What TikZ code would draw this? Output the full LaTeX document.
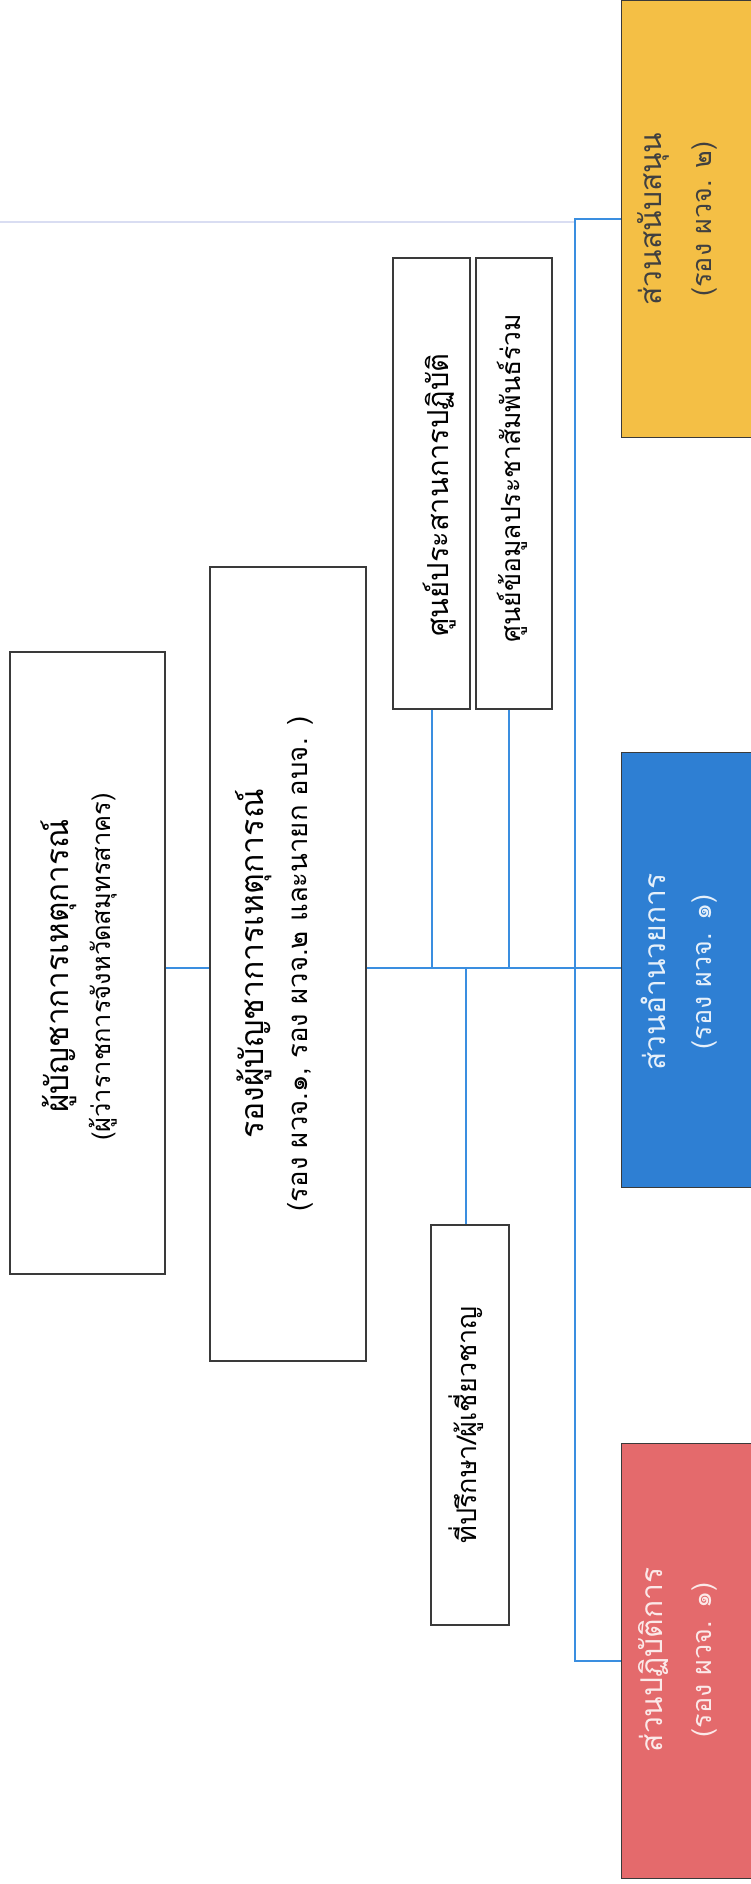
\documentclass[tikz,border=0pt]{standalone}
\usepackage{fontspec}
\newfontfamily\thai[Script=Thai]{Loma}
\definecolor{lineblue}{HTML}{3A8EE0}
\definecolor{faint}{HTML}{D9DDF2}
\definecolor{boxedge}{HTML}{3A3A3A}
\definecolor{supfill}{HTML}{F4BF45}
\definecolor{admfill}{HTML}{2E7FD3}
\definecolor{opsfill}{HTML}{E46A6C}
\begin{document}
\begin{tikzpicture}[x=1pt,y=-1pt,
  box/.style={draw=boxedge,line width=1.1pt,fill=white,inner sep=0pt},
  cbox/.style={draw=boxedge,line width=0.8pt,inner sep=0pt,minimum width=140pt},
  txt/.style={rotate=90,inner sep=0pt,font=\thai},
  conn/.style={draw=lineblue,line width=1.3pt}]
\useasboundingbox (0,0) rectangle (751,1884);
% faint top rule
\coordinate (fl) at (0,222);
\coordinate (fr) at (575,222);
\draw[faint,line width=1.5pt] (fl) -- (fr);
% commander
\node[box,minimum width=155pt,minimum height=622pt] (b1) at (87.5,963) {};
\node[txt,font=\thai\fontsize{31.5}{36}\selectfont] (b1a) at (59,966) {ผู้บัญชาการเหตุการณ์};
\node[txt,font=\thai\fontsize{25.5}{30}\selectfont] (b1b) at (103,967) {(ผู้ว่าราชการจังหวัดสมุทรสาคร)};
% deputy
\node[box,minimum width=156pt,minimum height=794pt] (b2) at (288,964) {};
\node[txt,font=\thai\fontsize{32}{36}\selectfont] (b2a) at (254,964) {รองผู้บัญชาการเหตุการณ์};
\node[txt,font=\thai\fontsize{27.5}{30}\selectfont] (b2b) at (300,964) {(รอง ผวจ.๑, รอง ผวจ.๒ และนายก อบจ. )};
% advisers
\node[box,minimum width=78pt,minimum height=400pt] (adv) at (470,1425) {};
\node[txt,font=\thai\fontsize{27}{30}\selectfont] (advt) at (466,1425) {ที่ปรึกษา/ผู้เชี่ยวชาญ};
% centres
\node[box,minimum width=77pt,minimum height=451pt] (coc) at (431.5,483.5) {};
\node[txt,font=\thai\fontsize{29}{30}\selectfont] (coct) at (440,495) {ศูนย์ประสานการปฏิบัติ};
\node[box,minimum width=76pt,minimum height=451pt] (jic) at (514,483.5) {};
\node[txt,font=\thai\fontsize{26.5}{30}\selectfont] (jict) at (512,478) {ศูนย์ข้อมูลประชาสัมพันธ์ร่วม};
% coloured sections
\node[cbox,fill=supfill,minimum height=437pt,anchor=north west] (sup) at (621,0) {};
\node[txt,text=black!75,font=\thai\fontsize{30}{30}\selectfont] (supa) at (653,219) {ส่วนสนับสนุน};
\node[txt,text=black!75,font=\thai\fontsize{27}{30}\selectfont] (supb) at (705,219) {(รอง ผวจ. ๒)};
\node[cbox,fill=admfill,minimum height=435pt,anchor=north west] (adm) at (621,752) {};
\node[txt,text=white!88!admfill,font=\thai\fontsize{30}{30}\selectfont] (adma) at (653,972) {ส่วนอำนวยการ};
\node[txt,text=white!88!admfill,font=\thai\fontsize{27}{30}\selectfont] (admb) at (705,972) {(รอง ผวจ. ๑)};
\node[cbox,fill=opsfill,minimum height=435pt,anchor=north west] (ops) at (621,1443) {};
\node[txt,text=white!85!opsfill,font=\thai\fontsize{30}{30}\selectfont] (opsa) at (653,1660) {ส่วนปฏิบัติการ};
\node[txt,text=white!85!opsfill,font=\thai\fontsize{27}{30}\selectfont] (opsb) at (705,1660) {(รอง ผวจ. ๑)};
% connectors
\coordinate (hub) at (575,968);
\coordinate (ja) at (432,968);
\coordinate (jb) at (509,968);
\coordinate (jc) at (466,968);
\draw[conn] (b1.east |- hub) -- (b2.west |- hub);
\draw[conn] (b2.east |- hub) -- (adm.west |- hub);
\draw[conn] (ja) -- (ja |- coc.south);
\draw[conn] (jb) -- (jb |- jic.south);
\draw[conn] (jc) -- (jc |- adv.north);
\draw[conn] (sup.west) -- ++(-46,0) coordinate (vt) -- (vt |- ops.west) -- (ops.west);
\end{tikzpicture}
\end{document}
